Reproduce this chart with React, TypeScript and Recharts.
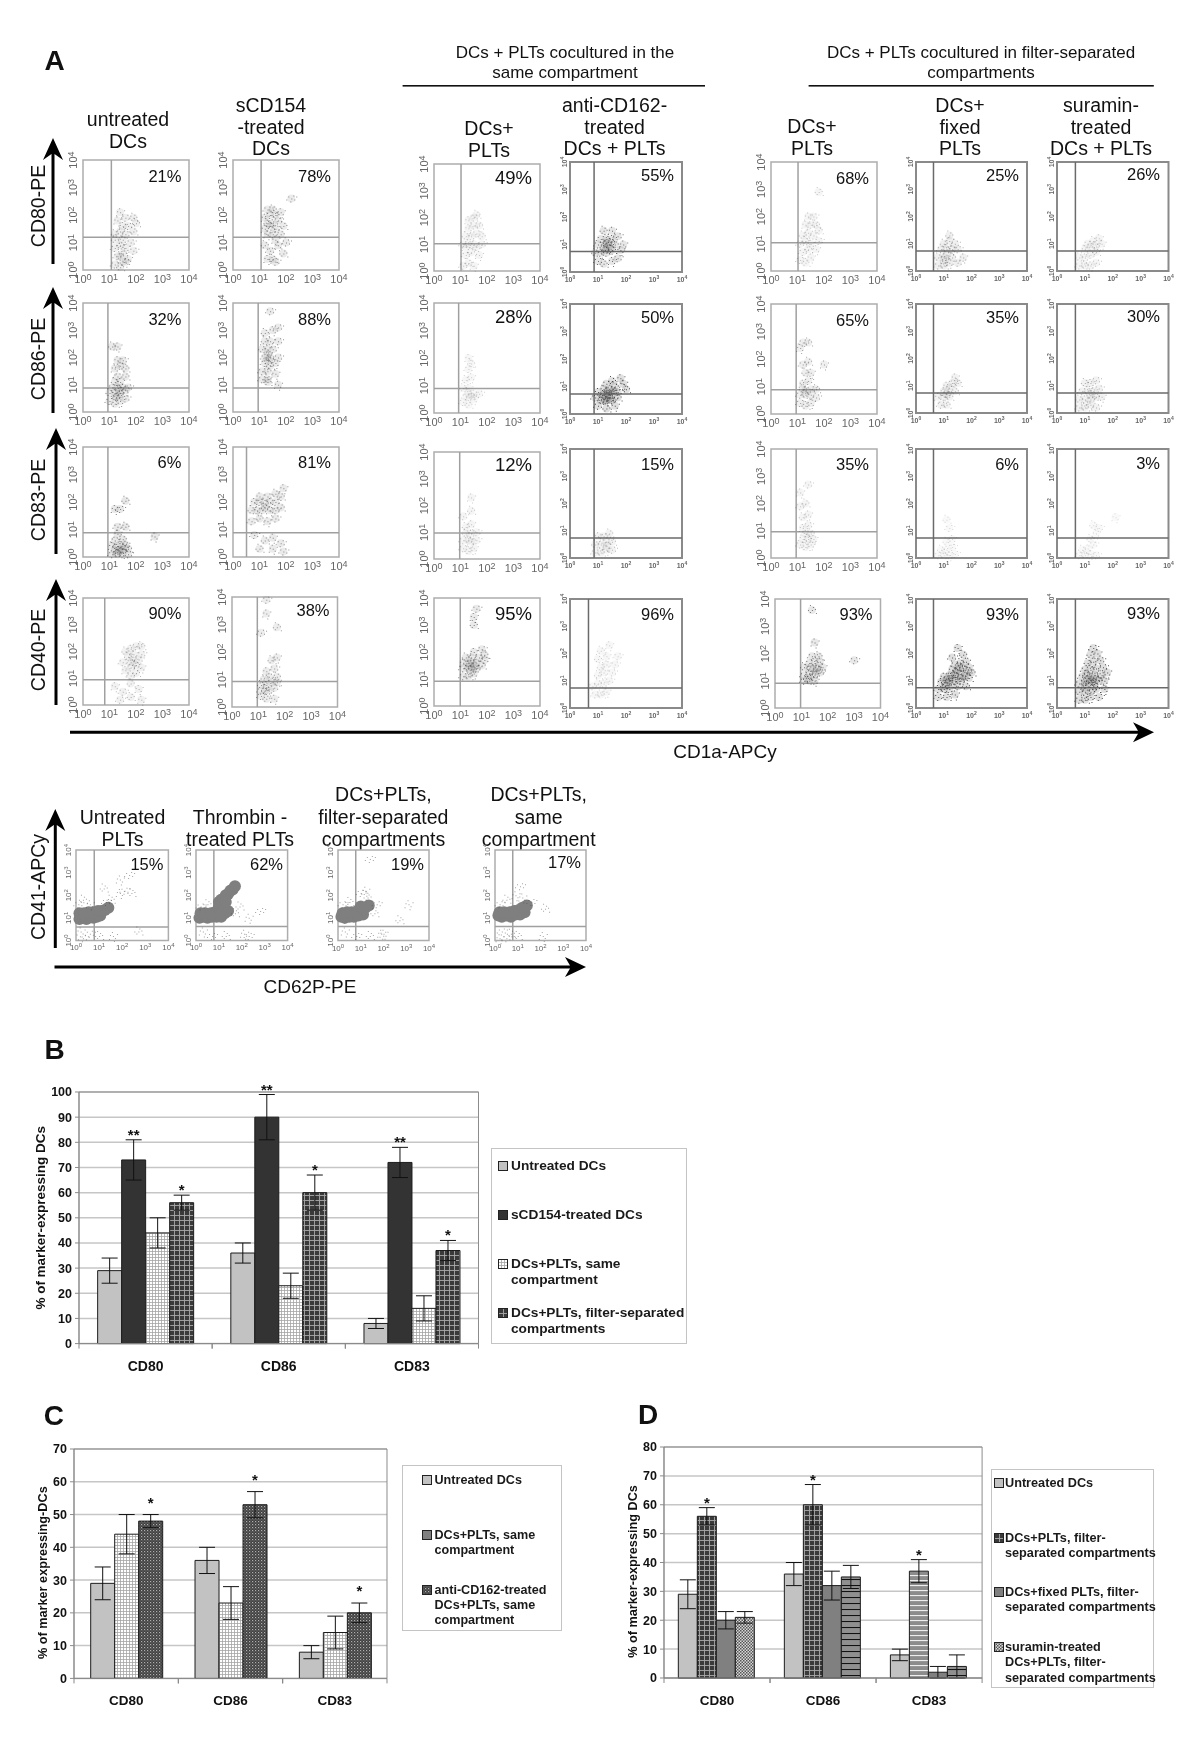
import React from 'react';
import {
  BarChart, Bar, XAxis, YAxis, CartesianGrid, ErrorBar, LabelList, Legend, Cell,
  ReferenceArea, ReferenceLine, ScatterChart, Scatter,
} from 'recharts';

type Pt = number[];

// ---- panel A: flow cytometry, values are log10 decades ----
const decadeTicks = [0, 1, 2, 3, 4];

const cd80Percent = ['21%', '78%', '49%', '55%', '68%', '25%', '26%'];
const cd86Percent = ['32%', '88%', '28%', '50%', '65%', '35%', '30%'];
const cd83Percent = ['6%', '81%', '12%', '15%', '35%', '6%', '3%'];
const cd40Percent = ['90%', '38%', '95%', '96%', '93%', '93%', '93%'];
const cd41Percent = ['15%', '62%', '19%', '17%'];

const cd80Gates = [[1.07, 1.19], [1.06, 1.19], [1.02, 1.02], [0.86, 0.75], [1.02, 1.04], [0.63, 0.73], [0.66, 0.73]];
const cd86Gates = [[0.94, 0.88], [0.95, 0.88], [0.93, 0.89], [0.86, 0.73], [0.95, 0.88], [0.63, 0.73], [0.66, 0.73]];
const cd83Gates = [[0.94, 0.88], [0.51, 0.88], [0.97, 0.97], [0.86, 0.73], [0.95, 0.96], [0.63, 0.73], [0.66, 0.73]];
const cd40Gates = [[0.82, 0.94], [0.96, 0.93], [0.99, 0.92], [0.66, 0.73], [0.97, 0.91], [0.63, 0.74], [0.66, 0.74]];
const cd41Gates = [[0.79, 0.6], [0.78, 0.62], [0.78, 0.62], [0.78, 0.62]];

const cd80Clouds: Pt[][] = [
  [[1.2,.2],[1.4,.1],[1.6,.3],[1.3,.5],[1.5,.6],[1.7,.4],[1.2,.8],[1.4,.9],[1.6,.8],[1.9,.7],[1.2,1.1],[1.5,1.1],[1.8,1],[1.2,1.3],[1.4,1.4],[1.6,1.3],[1.9,1.4],[1.5,1.6],[1.7,1.6],[2,1.7],[1.3,1.8],[1.6,1.9],[1.9,1.9],[1.4,2.1],[1.5,.3],[1.4,.5]],
  [[1.3,2.2],[1.5,2.2],[1.2,1.9],[1.4,2],[1.6,2],[1.8,2.1],[2.2,2.6],[1.3,1.7],[1.5,1.7],[1.7,1.8],[1.4,1.6],[1.2,1.5],[1.6,1.5],[1.9,1.6],[1.3,1.3],[1.5,1.3],[1.8,1.3],[1.6,1.1],[2,1],[1.2,.9],[1.7,.9],[1.4,.7],[1.9,.6],[1.3,.4],[1.6,.3],[1.5,.4]],
  [[1.1,.2],[1.3,.3],[1.5,.2],[1.2,.6],[1.4,.7],[1.7,.6],[1.1,1],[1.3,1],[1.5,1],[1.8,1],[1.2,1.3],[1.4,1.3],[1.6,1.4],[1.8,1.3],[1.3,1.6],[1.5,1.7],[1.7,1.7],[1.3,1.9],[1.5,2],[1.6,2.1],[1.2,.9],[1.6,.9]],
  [[1,.4],[1.2,.3],[1.5,.4],[1.7,.5],[.9,.7],[1.1,.7],[1.3,.7],[1.5,.8],[1.8,.8],[1,1],[1.2,.9],[1.3,.9],[1.4,1],[1.6,1],[1.9,1],[1.1,1.2],[1.3,1.2],[1.5,1.2],[1.7,1.3],[1.2,1.5],[1.5,1.5],[1.3,1.05],[1.25,.8],[1.45,.85],[1.35,1.1]],
  [[1.1,.4],[1.3,.3],[1.5,.5],[1.2,.7],[1.4,.8],[1.7,.8],[1.1,1],[1.3,1.1],[1.5,1],[1.8,1.1],[1.2,1.3],[1.4,1.4],[1.6,1.3],[1.8,1.5],[1.3,1.7],[1.5,1.7],[1.7,1.7],[1.4,2],[1.6,2],[1.8,2.9]],
  [[.8,.2],[1,.2],[1.2,.3],[1.5,.3],[.8,.5],[1,.5],[1.1,.6],[1.3,.5],[1.7,.5],[.9,.8],[1.1,.8],[1.3,.8],[1.5,.8],[1,1],[1.2,1.1],[1.4,1],[1.2,1.3],[1.05,.4]],
  [[.8,.2],[1,.2],[1.2,.2],[1.4,.3],[.8,.5],[1,.5],[1.2,.6],[1.4,.7],[1,.8],[1.2,.9],[1.4,.9],[1.6,1],[1.1,1],[1.3,1.1],[1.5,1.2]],
];

const cd86Clouds: Pt[][] = [
  [[1,.4],[1.2,.3],[1.4,.4],[1.6,.5],[1,.7],[1.2,.7],[1.3,.6],[1.4,.7],[1.6,.8],[1.1,.9],[1.3,.9],[1.5,.9],[1.7,.9],[1.2,1.1],[1.4,1.1],[1.3,1.3],[1.6,1.3],[1.2,1.6],[1.4,1.7],[1.6,1.6],[1.3,1.9],[1.5,1.9],[1.1,2.4],[1.3,2.4],[1.25,.55],[1.35,.8]],
  [[1.1,1.2],[1.3,1.1],[1.7,1],[1.1,1.5],[1.3,1.5],[1.6,1.4],[1.2,1.8],[1.4,1.7],[1.6,1.8],[1.2,2],[1.4,2],[1.3,2.1],[1.7,2],[1.1,2.3],[1.3,2.3],[1.5,2.3],[1.2,2.6],[1.4,2.6],[1.7,2.6],[1.2,2.9],[1.5,3],[1.7,3.1],[1.3,1.2],[1.35,1.9],[1.4,3.7]],
  [[1.1,.4],[1.3,.3],[1.5,.5],[1.2,.6],[1.3,.7],[1.5,.7],[1.7,.7],[1.1,.9],[1.3,.9],[1.4,.6],[1.2,1.2],[1.4,1.3],[1.3,1.6],[1.4,1.8],[1.3,2]],
  [[1,.3],[1.3,.2],[1.6,.3],[.9,.6],[1.1,.5],[1.3,.5],[1.5,.5],[1.7,.6],[1,.8],[1.2,.7],[1.35,.7],[1.5,.7],[1.7,.8],[2,.9],[1.2,.9],[1.4,.9],[1.6,1],[1.9,1.1],[1.3,1.1],[1.5,1.2],[1.8,1.3],[1.2,.55],[1.4,.6],[1.3,.8],[1.45,.8],[1.55,.85],[1.25,.65],[1.35,.5]],
  [[1.1,.4],[1.3,.3],[1.5,.4],[1.1,.7],[1.3,.7],[1.5,.7],[1.7,.6],[1.2,.9],[1.3,.85],[1.5,.9],[1.7,.9],[1.2,1.1],[1.4,1.2],[1.3,1.5],[1.5,1.5],[1.2,1.8],[1.4,1.9],[1.1,2.4],[1.2,2.6],[1.4,2.6],[2,1.8]],
  [[.9,.3],[1.1,.3],[.8,.6],[1,.6],[1.2,.6],[1,.8],[1.2,.9],[1.4,.8],[1.1,1],[1.3,1.1],[1.5,1.1],[1.4,1.3],[1.1,.7]],
  [[.8,.2],[1,.2],[1.2,.3],[1.4,.2],[.8,.5],[1,.5],[1.2,.5],[1.4,.6],[1.6,.6],[.9,.8],[1.1,.8],[1.3,.8],[1.5,.9],[1,1.1],[1.2,1.1],[1.4,1.2],[1.2,.65]],
];

const cd83Clouds: Pt[][] = [
  [[1.1,.1],[1.3,.1],[1.5,.15],[1.7,.1],[1.2,.25],[1.35,.25],[1.5,.3],[1.7,.3],[1.1,.4],[1.3,.4],[1.45,.4],[1.6,.45],[1.2,.6],[1.5,.65],[1.3,.85],[1.3,1.1],[1.6,1.1],[1.2,1.75],[1.4,1.75],[1.6,2.05],[2.7,.75],[1.4,.2]],
  [[.7,1.3],[1,1.4],[1.3,1.3],[1.6,1.4],[.7,1.7],[.9,1.7],[1.1,1.7],[1.2,1.8],[1.4,1.7],[1.6,1.7],[1.8,1.8],[.8,2],[1,2],[1.2,1.95],[1.4,2],[1.6,2],[1.8,2.2],[1,2.2],[1.3,2.2],[1.6,2.3],[1.9,2.5],[.8,.8],[1.2,.6],[1.5,.7],[1.8,.5],[1,.3],[1.5,.3],[1.9,.2]],
  [[1.1,.4],[1.3,.3],[1.5,.4],[1.1,.7],[1.3,.7],[1.4,.65],[1.6,.7],[1.2,.95],[1.4,.95],[1.6,1],[1.2,1.2],[1.4,1.3],[1.1,1.6],[1.4,1.8],[1.4,2.3]],
  [[.9,.2],[1.1,.2],[1.3,.3],[1.5,.3],[.9,.5],[1.1,.5],[1.3,.6],[1.5,.6],[1,.8],[1.2,.8],[1.4,.9],[1.3,.45]],
  [[1.1,.5],[1.3,.4],[1.5,.5],[1.2,.7],[1.4,.7],[1.6,.7],[1.3,.9],[1.5,.9],[1.2,1.1],[1.4,1.2],[1.2,1.5],[1.4,1.6],[1.1,1.9],[1.3,2],[1.1,2.4],[1.4,2.7]],
  [[.8,.1],[1,.1],[1.2,.1],[1.4,.15],[.9,.3],[1.1,.3],[1.3,.4],[1.1,.6],[1.3,.7],[1.2,1.1],[1.1,1.4]],
  [[.8,.1],[1,.1],[1.2,.15],[1.4,.1],[.9,.3],[1.1,.35],[1.3,.5],[1.2,.7],[1.4,.9],[1.5,1.1],[1.3,1.2],[2.1,1.5]],
];

const cd40Clouds: Pt[][] = [
  [[1.8,1.1],[2,1.2],[1.6,1.3],[1.8,1.4],[2,1.5],[2.2,1.4],[1.5,1.6],[1.8,1.6],[1.9,1.65],[2.1,1.7],[1.7,1.8],[1.9,1.9],[2.2,1.9],[1.6,2],[1.8,2.1],[2,2.2],[2.2,2.2],[1.2,.7],[1.5,.5],[1.8,.8],[2.1,.6],[1.4,.2],[1.8,.3],[2.2,.2]],
  [[1.1,.4],[1.3,.3],[1.6,.3],[1.1,.6],[1.25,.6],[1.4,.6],[1.6,.7],[1.1,.8],[1.3,.8],[1.5,.9],[1.7,.9],[1.2,1],[1.4,1.1],[1.7,1.1],[1.3,1.3],[1.6,1.4],[1.5,1.7],[1.7,1.8],[1.1,2.7],[1.7,2.9],[1.3,3.4],[1.3,3.9]],
  [[1.1,1.1],[1.3,1.1],[1.5,1.2],[1.1,1.4],[1.3,1.4],[1.4,1.35],[1.6,1.4],[1.8,1.5],[1.1,1.6],[1.3,1.6],[1.45,1.6],[1.6,1.6],[1.9,1.7],[1.2,1.8],[1.4,1.8],[1.7,1.8],[1.9,1.9],[1.5,2],[1.8,2.1],[1.5,3],[1.5,3.3],[1.6,3.6],[1.35,1.5],[1.5,1.45]],
  [[.9,.5],[1.1,.5],[1.3,.6],[.8,.8],[1,.9],[1.2,.9],[1.4,1],[1,1.2],[1.2,1.3],[1.5,1.3],[1.1,1.5],[1.3,1.6],[1.6,1.6],[1,1.8],[1.3,1.9],[1.7,1.9],[1.1,2.1],[1.4,2.3]],
  [[1.1,1],[1.3,1],[1.5,1],[1.1,1.2],[1.3,1.25],[1.5,1.2],[1.7,1.3],[1.1,1.5],[1.3,1.45],[1.45,1.45],[1.6,1.45],[1.8,1.5],[1.3,1.65],[1.5,1.65],[1.7,1.7],[1.4,1.9],[1.65,1.9],[1.5,2.4],[3,1.75],[1.4,3.6],[1.55,1.35],[1.25,1.1]],
  [[.8,.4],[1.1,.4],[1.4,.5],[.8,.7],[1,.7],[1.2,.7],[1.5,.8],[1.8,.8],[.9,.95],[1.1,.95],[1.2,1],[1.4,1],[1.6,1],[1.9,1.1],[1,1.15],[1.2,1.2],[1.4,1.2],[1.6,1.25],[1.8,1.3],[2,1.3],[1.3,1.4],[1.5,1.4],[1.7,1.45],[1.9,1.5],[1.4,1.6],[1.6,1.65],[1.8,1.7],[1.3,1.85],[1.7,1.95],[1.5,2.2],[1.1,1.05],[1.3,1.1],[1.45,1.3],[1.6,1.1],[1.25,.85],[1.05,.8],[1.75,1.15],[1.55,1.5]],
  [[.8,.3],[1,.3],[1.2,.4],[1.5,.4],[.8,.6],[1,.6],[1.2,.6],[1.4,.7],[1.7,.7],[.8,.9],[1,.9],[1.15,.95],[1.3,.95],[1.5,1],[1.7,1],[.9,1.15],[1.05,1.2],[1.2,1.15],[1.35,1.2],[1.6,1.2],[1.8,1.3],[1,1.4],[1.2,1.4],[1.4,1.45],[1.65,1.5],[1.1,1.65],[1.3,1.7],[1.55,1.75],[1.2,1.95],[1.45,2],[1.3,2.2],[1.1,1],[1.25,1.05],[1.4,1.05],[1,.75],[1.3,.8]],
];

const cd41Bands: Pt[][] = [
  [[.15,.95],[.3,1],[.45,.95],[.6,1.05],[.75,1],[.9,1.05],[1.05,1.1],[.15,1.2],[.35,1.2],[.55,1.25],[.75,1.25],[.95,1.3],[1.1,1.3],[1.25,1.35],[1.4,1.45]],
  [[.15,1],[.3,1.05],[.5,1],[.7,1.05],[.9,1.05],[1.1,1.05],[.2,1.2],[.4,1.2],[.65,1.2],[.85,1.25],[1.05,1.3],[1.25,1.2],[1,1.5],[1.15,1.6],[1,1.7],[1.1,1.8],[1.2,1.85],[1.3,2],[1.4,2.05],[1.5,2.2],[1.6,2.25],[1.7,2.4],[1.4,1.3],[1.3,1.7]],
  [[.15,1.05],[.3,1],[.5,1.05],[.7,1.05],[.9,1.1],[1.1,1.15],[.2,1.2],[.4,1.25],[.6,1.25],[.85,1.3],[1.05,1.35],[1.2,1.45],[1.35,1.55],[1,1.5]],
  [[.15,1.1],[.3,1.05],[.5,1.1],[.7,1.05],[.9,1.15],[1.1,1.15],[1.3,1.25],[.2,1.25],[.4,1.25],[.65,1.25],[.85,1.3],[1.05,1.35],[1.2,1.45],[1.4,1.55]],
];

const cd41Clouds: Pt[][] = [
  [[.1,1.6],[.3,1.8],[.6,1.6],[1.3,1.7],[1.5,1.8],[1.9,2.1],[2.1,2.2],[2.4,2.1],[1.9,2.7],[2.3,2.9],[1.2,2.3],[.2,.4],[.6,.3],[1,.2],[1.6,.2],[.3,.1],[2.7,.4]],
  [[.2,1.5],[.5,1.6],[.3,.4],[.7,.2],[1.3,.2],[2.1,.3],[2.3,.2],[1.7,1.2],[2.3,1],[2.8,1.3],[1.9,1.5]],
  [[.2,1.6],[.5,1.7],[.3,.4],[.8,.2],[1.4,.2],[2,.3],[1.7,1.6],[1.3,1.9],[1.2,2.2],[1,2.1],[2.7,.9],[3.1,1.6],[1.4,3.6],[1.6,1.2],[1.9,.3]],
  [[.2,1.6],[.5,1.8],[.9,2],[.3,.4],[.7,.3],[.2,.1],[.5,.1],[1,.2],[1.2,1.9],[1.6,1.7],[2.2,1.4],[2.1,.2],[1.1,2.4]],
];

// ---- panels B, C, D ----
const markerNames = ['CD80', 'CD86', 'CD83'];
const chartBTicks = [0, 10, 20, 30, 40, 50, 60, 70, 80, 90, 100];
const chartCTicks = [0, 10, 20, 30, 40, 50, 60, 70];
const chartDTicks = [0, 10, 20, 30, 40, 50, 60, 70, 80];

const untreatedValues = [29, 36, 8];
const untreatedErrors = [5, 4, 2];
const sCd154Values = [73, 90, 72];
const sCd154Errors = [8, 9, 6];
const sameValues = [44, 23, 14];
const sameErrors = [6, 5, 5];
const filterValues = [56, 60, 37];
const filterErrors = [3, 7, 4];
const antiCd162Values = [48, 53, 20];
const antiCd162Errors = [2, 4, 3];
const fixedValues = [20, 32, 2];
const fixedErrors = [3, 5, 2];
const suraminValues = [21, 35, 4];
const suraminErrors = [2, 4, 4];

const noStars = ['', '', ''];
const doubleStars = ['**', '**', '**'];
const singleStars = ['*', '*', '*'];

const solidLight = '#c2c2c2';
const solidDark = '#333333';
const solidMid = '#808080';

const chartBSeries = [
  { lines: ['Untreated DCs'], values: untreatedValues, errors: untreatedErrors, stars: noStars, fills: [solidLight] },
  { lines: ['sCD154-treated DCs'], values: sCd154Values, errors: sCd154Errors, stars: doubleStars, fills: [solidDark] },
  { lines: ['DCs+PLTs, same', 'compartment'], values: sameValues, errors: sameErrors, stars: noStars, fills: ['url(#gridLight)'] },
  { lines: ['DCs+PLTs, filter-separated', 'compartments'], values: filterValues, errors: filterErrors, stars: singleStars, fills: ['url(#gridDark)'] },
];
const chartCSeries = [
  { lines: ['Untreated DCs'], values: untreatedValues, errors: untreatedErrors, stars: noStars, fills: [solidLight] },
  { lines: ['DCs+PLTs, same', 'compartment'], values: sameValues, errors: sameErrors, stars: noStars, fills: ['url(#gridLight)'], swatch: solidMid },
  { lines: ['anti-CD162-treated', 'DCs+PLTs, same', 'compartment'], values: antiCd162Values, errors: antiCd162Errors, stars: singleStars, fills: ['url(#speckle)'] },
];
const chartDSeries = [
  { lines: ['Untreated DCs'], values: untreatedValues, errors: untreatedErrors, stars: noStars, fills: [solidLight] },
  { lines: ['DCs+PLTs, filter-', 'separated compartments'], values: filterValues, errors: filterErrors, stars: singleStars, fills: ['url(#gridDark)', 'url(#gridDark)', 'url(#stripesWhite)'] },
  { lines: ['DCs+fixed PLTs, filter-', 'separated compartments'], values: fixedValues, errors: fixedErrors, stars: noStars, fills: [solidMid] },
  { lines: ['suramin-treated', 'DCs+PLTs, filter-', 'separated compartments'], values: suraminValues, errors: suraminErrors, stars: noStars, fills: ['url(#dots)', 'url(#stripesDark)', 'url(#stripesDark)'] },
];

// ---- layout ----
const sans = '"Liberation Sans", Arial, sans-serif';

const columnX = [[83.4, 189.4], [233, 339], [434, 540], [570, 682], [771, 877], [916, 1027], [1056.5, 1168]];
const compactColumns = [3, 5, 6];
const rowY = [
  [[160, 270], [160, 270], [164, 271], [162, 272], [162, 271], [162, 271], [162, 271]],
  [[303, 412], [303, 412], [303, 413], [304, 414], [304, 414], [304, 413], [304, 413]],
  [[447, 557], [447, 557], [452, 559], [449, 558], [449, 558], [449, 558], [449, 558]],
  [[598, 705], [597, 707], [598, 706], [599, 708], [599, 708], [599, 708], [599, 708]],
];
const percentDrop = [
  [16, 16, 14, 13, 16, 13, 12],
  [16, 16, 14, 13, 16, 13, 12],
  [15, 15, 13, 15, 15, 15, 14],
  [15, 13, 16, 15, 15, 15, 14],
];
const inkLevels = [
  [0.5, 0.6, 0.3, 0.75, 0.3, 0.45, 0.3],
  [0.6, 0.6, 0.25, 0.95, 0.5, 0.4, 0.4],
  [0.7, 0.6, 0.3, 0.35, 0.3, 0.2, 0.2],
  [0.4, 0.55, 0.65, 0.25, 0.7, 0.95, 0.95],
];
const plateletX = [[76, 168.4], [196.4, 288], [338, 429], [495, 586]];

const specks = [
  [[0, 0], [-3, -2], [3, 1], [-1, 3], [2, -3], [-5, 1], [5, -2]],
  [[0, 0], [-2, 2], [3, -1], [1, -3], [-4, 0], [4, 3], [-2, -5]],
  [[0, 0], [2, 2], [-3, -1], [4, -2], [-1, -4], [-4, 3], [1, 5]],
];

// each measured point is drawn as a small stipple glyph over a faint halo, so a cloud reads like the dot plot
const Stipple = (props: any) => {
  const { cx, cy, index, ink, halo } = props;
  if (cx == null) return null;
  const d = specks[index % specks.length].map(([dx, dy]) => `M${cx + dx} ${cy + dy}h1v1h-1z`).join('');
  return (
    <g>
      {halo && <circle cx={cx} cy={cy} r={4} fill="#6a6a6a" opacity={ink * 0.22} />}
      <path d={d} fill="#4a4a4a" opacity={ink} />
    </g>
  );
};

const Disc = (props: any) => <circle cx={props.cx} cy={props.cy} r={6} fill="#7f7f7f" />;

const DecadeTickX = ({ x, y, payload, compact, small }: any) => (
  <text x={x} y={y + (compact ? 4 : small ? 4 : 7)} textAnchor="middle" fontFamily={sans}
    fontSize={compact ? 7 : small ? 8 : 11} fontWeight={compact ? 700 : 400} fill="#666">
    10<tspan dy={-3} fontSize={compact ? 5 : small ? 6 : 9}>{payload.value}</tspan>
  </text>
);

const DecadeTickY = ({ x, y, payload, compact, small }: any) => {
  const px = x + (compact ? 3 : small ? 1 : 0);
  return (
    <text x={px} y={y} transform={`rotate(-90 ${px} ${y})`} textAnchor="middle" fontFamily={sans}
      fontSize={compact ? 7 : small ? 8 : 11} fontWeight={compact ? 700 : 400} fill="#666">
      10<tspan dy={-3} fontSize={compact ? 5 : small ? 6 : 9}>{payload.value}</tspan>
    </text>
  );
};

const DotPlot = ({ box, gate, points, bands, ink, percent, drop, percentSize, compact, small }: any) => {
  const [x0, x1, y0, y1] = box;
  const frame = compact ? '#8a8a8a' : '#adadad';
  const gateColor = compact ? '#6a6a6a' : '#a0a0a0';
  return (
    <>
      <div style={{ position: 'absolute', left: x0 - 30, top: y0 - 14 }}>
        <ScatterChart width={x1 - x0 + 46} height={y1 - y0 + 36} margin={{ top: 14, right: 16, left: 0, bottom: 0 }}>
          <XAxis type="number" dataKey="x" domain={[0, 4]} ticks={decadeTicks} interval={0} height={22} axisLine={false}
            tickLine={false} tickMargin={0} tick={<DecadeTickX compact={compact} small={small} />} />
          <YAxis type="number" dataKey="y" domain={[0, 4]} ticks={decadeTicks} interval={0} width={30} axisLine={false}
            tickLine={false} tickMargin={0} tick={<DecadeTickY compact={compact} small={small} />} />
          <ReferenceArea x1={0} x2={4} y1={0} y2={4} fill="none" stroke={frame} strokeWidth={compact ? 2 : 1.5} />
          {bands && <Scatter data={bands.map(([x, y]: Pt) => ({ x, y }))} shape={<Disc />} isAnimationActive={false} />}
          <Scatter data={points.map(([x, y]: Pt) => ({ x, y }))} shape={<Stipple ink={ink} halo={!small} />} isAnimationActive={false} />
          <ReferenceLine x={gate[0]} stroke={gateColor} strokeWidth={1.5} />
          <ReferenceLine y={gate[1]} stroke={gateColor} strokeWidth={1.5} />
        </ScatterChart>
      </div>
      <div style={{ position: 'absolute', right: 1200 - x1 + (small ? 5 : 8), top: y0 + drop - 10, fontFamily: sans, fontSize: percentSize, lineHeight: '20px', color: '#111' }}>
        {percent}
      </div>
    </>
  );
};

const Patterns = () => (
  <svg width={0} height={0} style={{ position: 'absolute' }}>
    <defs>
      <pattern id="gridLight" width={3} height={3} patternUnits="userSpaceOnUse">
        <rect width={3} height={3} fill="#fff" />
        <path d="M0 0.5H3M0.5 0V3" stroke="#a5a5a5" strokeWidth={0.8} />
      </pattern>
      <pattern id="gridDark" width={5} height={5} patternUnits="userSpaceOnUse">
        <rect width={5} height={5} fill="#3a3a3a" />
        <path d="M0 0.5H5M0.5 0V5" stroke="#a8a8a8" strokeWidth={0.9} />
      </pattern>
      <pattern id="speckle" width={3} height={3} patternUnits="userSpaceOnUse">
        <rect width={3} height={3} fill="#3f3f3f" />
        <rect x={0} y={0} width={1.2} height={1.2} fill="#b0b0b0" />
        <rect x={1.5} y={1.5} width={1} height={1} fill="#8a8a8a" />
      </pattern>
      <pattern id="dots" width={3} height={3} patternUnits="userSpaceOnUse">
        <rect width={3} height={3} fill="#d8d8d8" />
        <rect x={0} y={0} width={1.5} height={1.5} fill="#555" />
        <rect x={1.5} y={1.5} width={1.5} height={1.5} fill="#555" />
      </pattern>
      <pattern id="stripesWhite" width={5} height={5} patternUnits="userSpaceOnUse">
        <rect width={5} height={5} fill="#8c8c8c" />
        <path d="M0 0.5H5" stroke="#eee" strokeWidth={1.2} />
      </pattern>
      <pattern id="stripesDark" width={6} height={6} patternUnits="userSpaceOnUse">
        <rect width={6} height={6} fill="#8f8f8f" />
        <path d="M0 0.5H6" stroke="#111" strokeWidth={1.1} />
      </pattern>
    </defs>
  </svg>
);

const MarkerBars = ({ plot, series, ticks, yMax, yTitle, titleInset, titleShift, titleSize, gapPct, starGap, legend, itemTops, lineHeight, swatchX, textX, catSize, legendSize }: any) => {
  const [left, right, top, bottom] = plot;
  const [boxLeft, boxTop, boxWidth, boxHeight] = legend;
  const pxPerUnit = (bottom - top) / yMax;
  const band = (right - left) / markerNames.length;
  const rows = markerNames.map((name, i) => {
    const row: any = { name };
    series.forEach((s: any, k: number) => {
      row[`v${k}`] = s.values[i];
      row[`e${k}`] = s.errors[i];
      row[`s${k}`] = s.stars[i];
    });
    return row;
  });
  const marginRight = boxLeft - right;
  const chartLeft = left - 50;

  const starLabel = (errors: number[]) => (p: any) => {
    if (!p.value) return null;
    const capY = p.y - errors[p.index] * pxPerUnit;
    return (
      <text x={p.x + p.width / 2} y={capY - starGap} textAnchor="middle" fontFamily={sans} fontWeight={700} fontSize={15} fill="#111">
        {p.value}
      </text>
    );
  };

  const CategoryTick = ({ x, y, payload }: any) => (
    <g>
      <path d={`M${x - band / 2} ${y - 6}v5M${x + band / 2} ${y - 6}v5`} stroke="#888" />
      <text x={x} y={y + 21} textAnchor="middle" fontFamily={sans} fontWeight={700} fontSize={catSize} fill="#111">{payload.value}</text>
    </g>
  );

  const LegendBox = () => (
    <div style={{ position: 'relative', boxSizing: 'border-box', width: boxWidth, height: boxHeight, border: '1.5px solid #c4c4c4', background: '#fff', fontFamily: sans, fontWeight: 700, fontSize: legendSize, color: '#1a1a1a' }}>
      {series.map((s: any, k: number) => (
        <React.Fragment key={k}>
          <svg width={10} height={10} style={{ position: 'absolute', left: swatchX, top: itemTops[k] - 5 }}>
            <rect x={0.5} y={0.5} width={9} height={9} fill={s.swatch ?? s.fills[0]} stroke="#222" />
          </svg>
          {s.lines.map((line: string, j: number) => (
            <div key={j} style={{ position: 'absolute', left: textX, top: itemTops[k] + j * lineHeight - 8, lineHeight: '16px', whiteSpace: 'nowrap' }}>{line}</div>
          ))}
        </React.Fragment>
      ))}
    </div>
  );

  return (
    <div style={{ position: 'absolute', left: chartLeft, top: top - 12 }}>
      <BarChart width={right - chartLeft + marginRight + boxWidth} height={bottom - top + 54} data={rows}
        margin={{ top: 12, right: marginRight, left: 0, bottom: 0 }} barCategoryGap={gapPct} barGap={0}>
        <CartesianGrid vertical={false} stroke="#c6c6c6" strokeWidth={1.5} />
        <ReferenceArea y1={0} y2={yMax} fill="none" stroke="#8c8c8c" />
        <XAxis dataKey="name" height={42} stroke="#8c8c8c" tickLine={false} tickMargin={0} interval={0} tick={<CategoryTick />} />
        <YAxis domain={[0, yMax]} ticks={ticks} interval={0} width={50} stroke="#8c8c8c" tickSize={4} tickMargin={3}
          tick={{ fontFamily: sans, fontWeight: 700, fontSize: 12.5, fill: '#111' }}
          label={{ value: yTitle, angle: -90, position: 'insideLeft', offset: titleInset, dy: titleShift, style: { textAnchor: 'middle', fontFamily: sans, fontWeight: 700, fontSize: titleSize, fill: '#111' } }} />
        {series.map((s: any, k: number) => (
          <Bar key={k} dataKey={`v${k}`} name={s.lines.join(' ')} fill={s.fills[0]} stroke="#1c1c1c" strokeWidth={1} isAnimationActive={false}>
            {s.values.map((_: number, i: number) => <Cell key={i} fill={s.fills[i] ?? s.fills[0]} />)}
            <ErrorBar dataKey={`e${k}`} width={8} stroke="#111" strokeWidth={1} />
            <LabelList dataKey={`s${k}`} content={starLabel(s.errors)} />
          </Bar>
        ))}
        <Legend layout="vertical" align="right" verticalAlign="top" content={<LegendBox />}
          wrapperStyle={{ position: 'absolute', left: boxLeft - chartLeft, top: boxTop - top + 12, width: boxWidth, height: boxHeight }} />
      </BarChart>
    </div>
  );
};

const Txt = ({ x, y, size = 16, weight = 400, rot, children }: any) => (
  <text x={x} y={y} textAnchor="middle" dominantBaseline="central" fontFamily={sans} fontSize={size} fontWeight={weight}
    fill="#111" transform={rot ? `rotate(${rot} ${x} ${y})` : undefined}>{children}</text>
);

const ArrowUp = ({ x, tip, end }: any) => (
  <path d={`M${x - 1.5} ${end}V${tip + 16}L${x - 10} ${tip + 22}L${x} ${tip}L${x + 10} ${tip + 22}L${x + 1.5} ${tip + 16}V${end}Z`} fill="#000" />
);

const ArrowRight = ({ y, from, tip }: any) => (
  <path d={`M${from} ${y - 1.5}H${tip - 16}L${tip - 21} ${y - 10}L${tip} ${y}L${tip - 21} ${y + 10}L${tip - 16} ${y + 1.5}H${from}Z`} fill="#000" />
);

const titleLines: any[] = [
  [128, 119, 'untreated'], [128, 140.7, 'DCs'],
  [271, 105, 'sCD154'], [271, 126.7, '-treated'], [271, 148, 'DCs'],
  [489, 128, 'DCs+'], [489, 150, 'PLTs'],
  [614.6, 105, 'anti-CD162-'], [614.6, 126.7, 'treated'], [614.6, 148, 'DCs + PLTs'],
  [812, 126, 'DCs+'], [812, 148, 'PLTs'],
  [960, 105, 'DCs+'], [960, 126.7, 'fixed'], [960, 148, 'PLTs'],
  [1101, 105, 'suramin-'], [1101, 126.7, 'treated'], [1101, 148, 'DCs + PLTs'],
  [122.5, 817, 'Untreated'], [122.5, 839, 'PLTs'],
  [240, 817, 'Thrombin -'], [240, 839, 'treated PLTs'],
  [383.4, 794, 'DCs+PLTs,'], [383.4, 817, 'filter-separated'], [383.4, 839, 'compartments'],
  [538.7, 794, 'DCs+PLTs,'], [538.7, 817, 'same'], [538.7, 839, 'compartment'],
];

const Annotations = () => (
  <svg width={1200} height={1737} style={{ position: 'absolute', left: 0, top: 0 }}>
    <Txt x={54.7} y={60.7} size={28} weight={700}>A</Txt>
    <Txt x={54.7} y={1049} size={28} weight={700}>B</Txt>
    <Txt x={53.8} y={1415} size={28} weight={700}>C</Txt>
    <Txt x={648} y={1414} size={28} weight={700}>D</Txt>
    <Txt x={565} y={52.7} size={17}>DCs + PLTs cocultured in the</Txt>
    <Txt x={565} y={72} size={17}>same compartment</Txt>
    <Txt x={981} y={52.7} size={17}>DCs + PLTs cocultured in filter-separated</Txt>
    <Txt x={981} y={72} size={17}>compartments</Txt>
    <rect x={402.6} y={85} width={302.4} height={1.6} fill="#111" />
    <rect x={808.6} y={85} width={345.2} height={1.6} fill="#111" />
    {titleLines.map(([x, y, t], i) => <Txt key={i} x={x} y={y} size={19.5}>{t}</Txt>)}
    <Txt x={37.5} y={206} size={19.5} rot={-90}>CD80-PE</Txt>
    <Txt x={37.5} y={359} size={19.5} rot={-90}>CD86-PE</Txt>
    <Txt x={37.5} y={500} size={19.5} rot={-90}>CD83-PE</Txt>
    <Txt x={37.5} y={650} size={19.5} rot={-90}>CD40-PE</Txt>
    <Txt x={38.3} y={887} size={19.5} rot={-90}>CD41-APCy</Txt>
    <ArrowUp x={53} tip={138} end={264} />
    <ArrowUp x={53} tip={287} end={413} />
    <ArrowUp x={56} tip={428} end={554} />
    <ArrowUp x={56} tip={579} end={705} />
    <ArrowUp x={55.3} tip={809} end={948} />
    <ArrowRight y={732.3} from={70} tip={1154} />
    <ArrowRight y={967} from={54.5} tip={586} />
    <Txt x={725} y={751.7} size={19}>CD1a-APCy</Txt>
    <Txt x={310} y={986} size={19}>CD62P-PE</Txt>
  </svg>
);

const rowPercents = [cd80Percent, cd86Percent, cd83Percent, cd40Percent];
const rowGates = [cd80Gates, cd86Gates, cd83Gates, cd40Gates];
const rowClouds = [cd80Clouds, cd86Clouds, cd83Clouds, cd40Clouds];

export default function App() {
  return (
    <div style={{ position: 'absolute', left: 0, top: 0, width: 1200, height: 1737, background: '#fff', overflow: 'hidden', filter: 'blur(0.45px)' }}>
      <Patterns />
      <Annotations />
      {rowClouds.map((clouds, r) => clouds.map((points, c) => {
        // a couple of panels in the CD40 row sit slightly off their column in the source figure
        const xs = r === 3 && c === 4 ? [775, 880.5] : r === 3 && c === 1 ? [232, 337.5] : columnX[c];
        return (
          <DotPlot key={`${r}-${c}`} box={[xs[0], xs[1], rowY[r][c][0], rowY[r][c][1]]} gate={rowGates[r][c]} points={points}
            ink={inkLevels[r][c]} percent={rowPercents[r][c]} drop={percentDrop[r][c]}
            percentSize={c === 2 ? 18.5 : 16.5} compact={compactColumns.includes(c)} />
        );
      }))}
      {cd41Clouds.map((points, c) => (
        <DotPlot key={`p${c}`} box={[plateletX[c][0], plateletX[c][1], 850, 940.5]} gate={cd41Gates[c]} points={points} bands={cd41Bands[c]}
          ink={0.5} percent={cd41Percent[c]} drop={c === 3 ? 12 : 14} percentSize={16.5} small />
      ))}
      <MarkerBars plot={[78.5, 478, 1091.7, 1343.3]} series={chartBSeries} ticks={chartBTicks} yMax={100}
        yTitle="% of marker-expressing DCs" titleInset={11} titleShift={0} titleSize={13.5} gapPct="14%" starGap={0}
        legend={[490.5, 1148, 196.5, 196]} itemTops={[17, 66, 115, 164]} lineHeight={16} swatchX={6} textX={19.5} catSize={14} legendSize={13.7} />
      <MarkerBars plot={[73.5, 386.5, 1449.3, 1678.7]} series={chartCSeries} ticks={chartCTicks} yMax={70}
        yTitle="% of marker expressing-DCs" titleInset={18} titleShift={9} titleSize={12.7} gapPct="16%" starGap={7}
        legend={[401.5, 1465, 160.5, 166]} itemTops={[14, 69, 124]} lineHeight={15} swatchX={19} textX={32} catSize={13.5} legendSize={12.6} />
      <MarkerBars plot={[664.4, 982.5, 1447, 1678]} series={chartDSeries} ticks={chartDTicks} yMax={80}
        yTitle="% of marker-expressing DCs" titleInset={18} titleShift={9} titleSize={12.7} gapPct="13.5%" starGap={0}
        legend={[991, 1469, 163.5, 219]} itemTops={[13, 68, 122, 177]} lineHeight={15.3} swatchX={2} textX={13} catSize={13.5} legendSize={12.7} />
    </div>
  );
}
